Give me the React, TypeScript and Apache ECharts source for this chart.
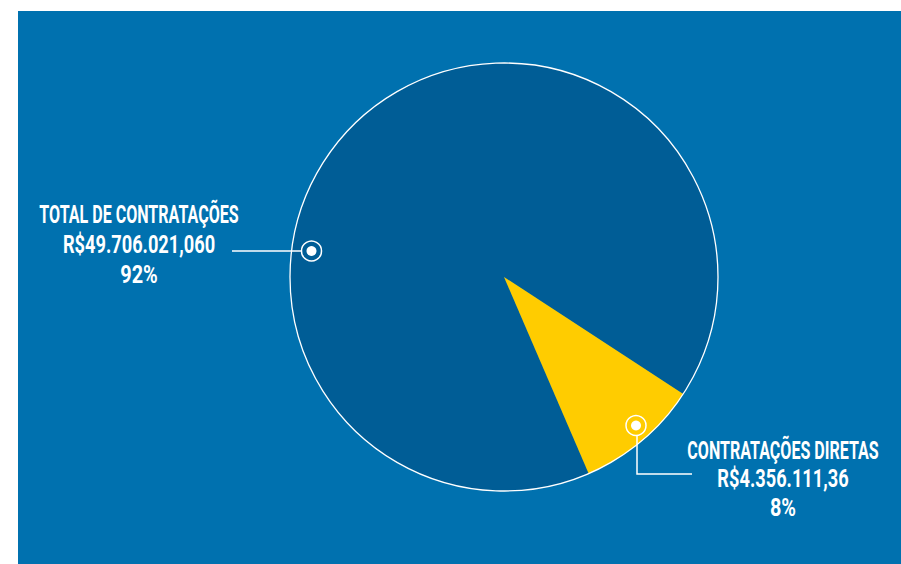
import React, { useEffect, useRef } from "react";
import * as echarts from "echarts";

const sliceNames: string[] = ["TOTAL DE CONTRATAÇÕES", "CONTRATAÇÕES DIRETAS"];
const sliceShares: number[] = [90.67, 9.33];
const amountLabels: string[] = ["R$49.706.021,060", "R$4.356.111,36"];
const percentLabels: string[] = ["92%", "8%"];
const sliceColors: string[] = ["#005D96", "#FFCC00"];

const W = 901;
const H = 564;
const CX = 504;
const CY = 277;
const R = 214;
const START_ANGLE = -66.7;

const FONT = "Roboto, 'Liberation Sans', sans-serif";
const LINE_SCALES = [0.63, 0.715, 0.78];

function App() {
  const ref = useRef<HTMLDivElement>(null);
  useEffect(() => {
    if (!ref.current) return;
    const chart = echarts.init(ref.current, null, { renderer: "svg" });

    const textBlock = (cx: number, ys: number[], lines: string[]) =>
      lines.map((t, i) => ({
        type: "text",
        x: cx,
        y: ys[i],
        scaleX: LINE_SCALES[i],
        silent: true,
        z: 20,
        style: {
          text: t,
          fill: "#ffffff",
          font: `bold 25.5px ${FONT}`,
          align: "center",
          verticalAlign: "middle",
        },
      }));

    const marker = (x: number, y: number) => [
      {
        type: "circle",
        shape: { cx: x, cy: y, r: 10 },
        z: 20,
        silent: true,
        style: { fill: "none", stroke: "#ffffff", lineWidth: 1.5 },
      },
      {
        type: "circle",
        shape: { cx: x, cy: y, r: 5 },
        z: 20,
        silent: true,
        style: { fill: "#ffffff" },
      },
    ];

    const m1 = { x: 311.5, y: 251 };
    const m2 = { x: 636, y: 425.5 };

    chart.setOption({
      animation: false,
      backgroundColor: "#ffffff",
      graphic: [
        {
          type: "rect",
          shape: { x: 18, y: 11, width: W - 18, height: H - 11 },
          z: -10,
          silent: true,
          style: { fill: "#0071AF" },
        },
        {
          type: "circle",
          shape: { cx: CX, cy: CY, r: R },
          z: 15,
          silent: true,
          style: { fill: "none", stroke: "#ffffff", lineWidth: 1.3 },
        },
        {
          type: "line",
          shape: { x1: 232, y1: m1.y, x2: m1.x - 10, y2: m1.y },
          z: 20,
          silent: true,
          style: { stroke: "#ffffff", lineWidth: 1.5 },
        },
        {
          type: "polyline",
          shape: { points: [[m2.x + 1, m2.y + 10], [m2.x + 1, 474], [692, 474]] },
          z: 20,
          silent: true,
          style: { fill: "none", stroke: "#ffffff", lineWidth: 1.5 },
        },
        ...marker(m1.x, m1.y),
        ...marker(m2.x, m2.y),
        ...textBlock(139, [214.5, 244, 275], [sliceNames[0], amountLabels[0], percentLabels[0]]),
        ...textBlock(783, [450.5, 478, 507.5], [sliceNames[1], amountLabels[1], percentLabels[1]]),
      ],
      series: [
        {
          type: "pie",
          center: [CX, CY],
          radius: R,
          startAngle: START_ANGLE,
          clockwise: true,
          silent: true,
          label: { show: false },
          labelLine: { show: false },
          emphasis: { disabled: true },
          itemStyle: { borderWidth: 0 },
          data: sliceNames.map((n, i) => ({
            name: n,
            value: sliceShares[i],
            itemStyle: { color: sliceColors[i] },
          })),
        },
      ],
    });
    return () => chart.dispose();
  }, []);
  return (
    <div
      ref={ref}
      style={{ position: "absolute", left: 0, top: 0, width: W, height: H }}
    />
  );
}

export default App;
